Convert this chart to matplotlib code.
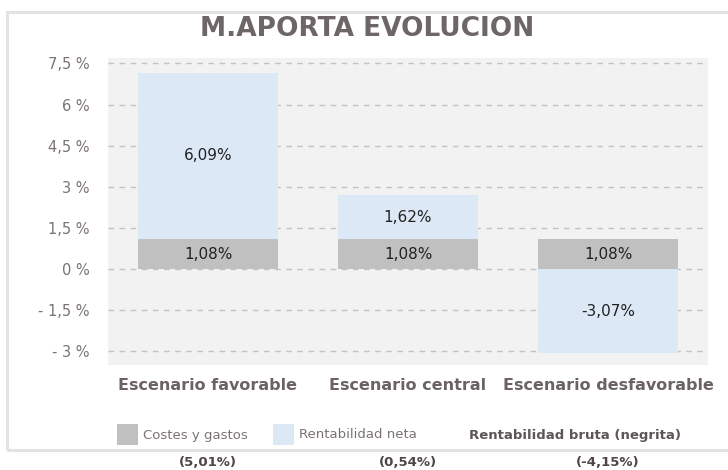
import matplotlib
matplotlib.use('Agg')
import matplotlib.pyplot as plt
from matplotlib.patches import Rectangle
from matplotlib.ticker import FuncFormatter
import numpy as np

plt.rcParams['font.family'] = 'DejaVu Sans'

# Data
escenarios = ['Escenario favorable', 'Escenario central', 'Escenario desfavorable']
costes_gastos = np.array([1.08, 1.08, 1.08])
rentab_neta = np.array([6.09, 1.62, -3.07])
rentab_bruta = [5.01, 0.54, -4.15]
y_ticks = [-3, -1.5, 0, 1.5, 3, 4.5, 6, 7.5]

W, H = 728, 470
fig = plt.figure(figsize=(W / 100, H / 100), dpi=100)
fig.patch.set_facecolor('white')

# outer frame
fig.patches.append(Rectangle((7 / W, (H - 450) / H), 740 / W, 438 / H,
                             transform=fig.transFigure, facecolor='none',
                             edgecolor='#e3e3e3', linewidth=2.2, zorder=0))


def px(x0, y0, w, h):
    return [x0 / W, (H - y0 - h) / H, w / W, h / H]


ax = fig.add_axes(px(108, 58, 600, 307))
ax.set_facecolor('#f2f2f2')

x = np.arange(len(escenarios))
bar_w = 0.7
neta_bottom = np.where(rentab_neta >= 0, costes_gastos, 0)

b1 = ax.bar(x, costes_gastos, width=bar_w, color='#c0c0c0', zorder=2)
b2 = ax.bar(x, rentab_neta, width=bar_w, bottom=neta_bottom, color='#dce8f5', zorder=2)


def fmt_pct(v):
    return f'{v:.2f}'.replace('.', ',') + '%'


ax.bar_label(b1, labels=[fmt_pct(v) for v in costes_gastos], label_type='center',
             fontsize=11, color='#222222')
ax.bar_label(b2, labels=[fmt_pct(v) for v in rentab_neta], label_type='center',
             fontsize=11, color='#222222')


def ytick_fmt(v, pos):
    s = f'{abs(v):g}'.replace('.', ',') + ' %'
    return ('- ' + s) if v < 0 else s


ax.set_xlim(-0.5, 2.5)
ax.set_ylim(-3.5, 7.7)
ax.set_yticks(y_ticks)
ax.yaxis.set_major_formatter(FuncFormatter(ytick_fmt))
ax.set_xticks(x)
ax.set_xticklabels(escenarios, fontweight='bold', fontsize=11.5, color='#6b6363')
ax.tick_params(axis='x', length=0, pad=9)
ax.tick_params(axis='y', length=0, pad=13, labelsize=10.5, labelcolor='#7b7373')
for s in ax.spines.values():
    s.set_visible(False)
ax.yaxis.grid(True, linestyle=(0, (4, 4)), color='#c2c2c2', linewidth=1.0)
ax.set_axisbelow(True)

# title
fig.text(367.5 / W, (H - 29) / H, 'M.APORTA EVOLUCION', ha='center', va='center',
         fontsize=19, fontweight='bold', color='#6e6666')

# legend
leg_y = 435
fig.patches.append(Rectangle((117 / W, (H - 445) / H), 21 / W, 21 / H,
                             transform=fig.transFigure, facecolor='#c0c0c0',
                             edgecolor='none'))
fig.text(143 / W, (H - leg_y) / H, 'Costes y gastos', ha='left', va='center',
         fontsize=9.5, color='#7b7373')
fig.patches.append(Rectangle((273 / W, (H - 445) / H), 21 / W, 21 / H,
                             transform=fig.transFigure, facecolor='#dce8f5',
                             edgecolor='none'))
fig.text(299 / W, (H - leg_y) / H, 'Rentabilidad neta', ha='left', va='center',
         fontsize=9.5, color='#7b7373')
fig.text(469 / W, (H - leg_y) / H, 'Rentabilidad bruta (negrita)', ha='left',
         va='center', fontsize=9.5, fontweight='bold', color='#5e5656')

# rentabilidad bruta below the frame
for xi, v in zip(x, rentab_bruta):
    xf = ax.transData.transform((xi, 0))[0] / W
    fig.text(xf, (H - 463) / H, '(' + fmt_pct(v) + ')', ha='center', va='center',
             fontsize=9.5, fontweight='bold', color='#4e4646')

fig.savefig('out.png', dpi=100)
